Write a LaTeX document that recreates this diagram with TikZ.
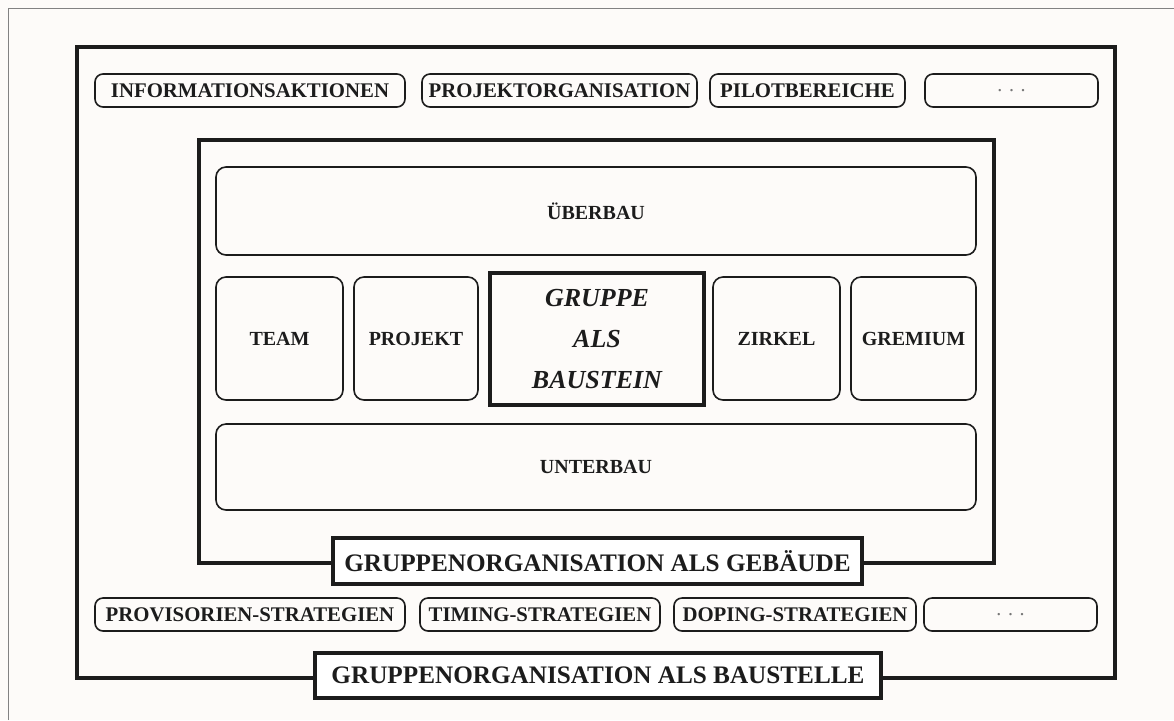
\documentclass[tikz,border=0pt]{standalone}
\usepackage{fontspec}
\setmainfont{Liberation Serif}
\definecolor{ink}{HTML}{1C1C1C}
\definecolor{paper}{HTML}{FDFBF9}
\tikzset{
  tagbox/.style={draw=ink, line width=0.8pt, rounded corners=4pt, minimum height=16.5pt, inner sep=0pt,
    font=\bfseries\fontsize{10.4}{12}\selectfont, text=ink},
  dotbox/.style={tagbox, font=\fontsize{10}{12}\selectfont, text=ink!60},
  partbox/.style={draw=ink, line width=0.8pt, rounded corners=5pt, inner sep=0pt,
    font=\bfseries\fontsize{10}{12}\selectfont, text=ink},
  corebox/.style={draw=ink, line width=2pt, inner sep=0pt, align=center,
    font=\bfseries\itshape\fontsize{13}{20.5}\selectfont, text=ink},
  titlebox/.style={draw=ink, line width=2.3pt, fill=white, inner sep=0pt,
    font=\bfseries\fontsize{12.6}{15}\selectfont, text=ink},
  frame/.style={draw=ink, line width=2.2pt},
}
\begin{document}
\begin{tikzpicture}[x=0.5pt,y=-0.5pt]
\fill[paper] (0,0) rectangle (1174,720);
\useasboundingbox (0,0) rectangle (1174,720);
% scan border
\draw[ink!55, line width=0.5pt] (8,720) -- (8,8) -- (1174,8);

% outer frame: Baustelle
\draw[frame] (77,47) rectangle (1115,678);
\node[tagbox, minimum width=155pt] (info) at (250,90.5) {INFORMATIONSAKTIONEN};
\node[tagbox, minimum width=137.5pt] (projorg) at (559.5,90.5) {PROJEKTORGANISATION};
\node[tagbox, minimum width=97.5pt] (pilot) at (807.5,90.5) {PILOTBEREICHE};
\node[dotbox, minimum width=86.5pt] (moretop) at (1011.5,90.5) {.\,\,.\,\,.};

\node[tagbox, minimum width=155pt] (prov) at (250,614.5) {PROVISORIEN-STRATEGIEN};
\node[tagbox, minimum width=120pt] (timing) at (540,614.5) {TIMING-STRATEGIEN};
\node[tagbox, minimum width=121pt] (doping) at (795,614.5) {DOPING-STRATEGIEN};
\node[dotbox, minimum width=86.5pt] (morebot) at (1010.5,614.5) {.\,\,.\,\,.};

% inner frame: Gebaeude
\draw[frame] (199,140) rectangle (994,563);
\node[partbox, minimum width=380pt, minimum height=44pt] (ueberbau) at (596,211) {ÜBERBAU};

\node[partbox, minimum width=63.5pt, minimum height=61.5pt] (team) at (279.5,338.5) {TEAM};
\node[partbox, minimum width=62pt, minimum height=61.5pt] (projekt) at (416,338.5) {PROJEKT};
\node[corebox, minimum width=107pt, minimum height=66pt] (gruppe) at (597,339) {GRUPPE\\ALS\\BAUSTEIN};
\node[partbox, minimum width=63.5pt, minimum height=61.5pt] (zirkel) at (776.5,338.5) {ZIRKEL};
\node[partbox, minimum width=62.5pt, minimum height=61.5pt] (gremium) at (913.5,338.5) {GREMIUM};

\node[partbox, minimum width=380pt, minimum height=43pt] (unterbau) at (596,467) {UNTERBAU};

% titles
\node[titlebox, minimum width=264.5pt, minimum height=23pt] (gebaeude) at (597.5,561) {GRUPPENORGANISATION ALS GEBÄUDE};
\node[titlebox, minimum width=283pt, minimum height=22.5pt] (baustelle) at (598,675.5) {GRUPPENORGANISATION ALS BAUSTELLE};
\end{tikzpicture}
\end{document}
